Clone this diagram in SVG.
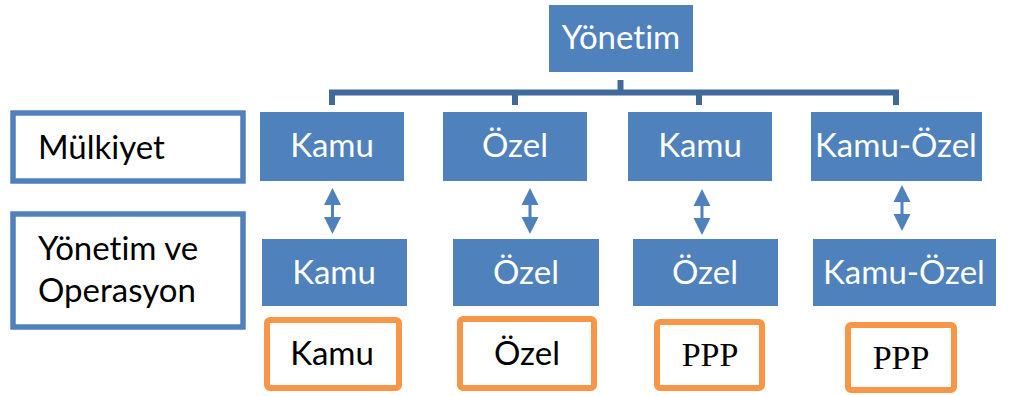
<svg xmlns="http://www.w3.org/2000/svg" width="1010" height="396" viewBox="0 0 1010 396">
  <style>
    text { font-variant-ligatures: none; font-feature-settings: "liga" 0, "clig" 0; }
    .box { fill: #4f81bd; }
    .lbl { fill: #ffffff; stroke: #4f81bd; stroke-width: 5.5; }
    .res { fill: #ffffff; stroke: #f79646; stroke-width: 6; }
    .wt { font-family: Lato, "Open Sans", sans-serif; font-size: 33px; fill: #ffffff; text-anchor: middle; }
    .bk { font-family: Lato, "Open Sans", sans-serif; font-size: 33px; fill: #000000; }
    .bkc { font-family: Lato, "Open Sans", sans-serif; font-size: 33px; fill: #000000; text-anchor: middle; }
    .serif { font-family: "Liberation Serif", serif; font-size: 34px; fill: #000000; text-anchor: middle; }
    .tree { fill: none; stroke: #40699c; stroke-width: 6; }
    .arr { fill: #4f81bd; }
  </style>
  <defs>
    <path id="dbl" d="M0 0 L8.5 17 H1.5 V29 H8.5 L0 46 L-8.5 29 H-1.5 V17 H-8.5 Z"/>
  </defs>

  <!-- tree connectors and double arrows -->
  <g id="connectors">
    <path class="tree" d="M620.5 80 V92.5 M332 105 V92.5 H896 V105 M515 92.5 V105 M699 92.5 V105"/>
    <use href="#dbl" class="arr" transform="translate(332.5,188)"/>
    <use href="#dbl" class="arr" transform="translate(530,188)"/>
    <use href="#dbl" class="arr" transform="translate(702,189)"/>
    <use href="#dbl" class="arr" transform="translate(902,185)"/>
  </g>

  <!-- row labels -->
  <g id="label-mulkiyet">
    <rect class="lbl" x="13" y="113" width="230" height="68"/>
    <text class="bk" x="38" y="159">Mülkiyet</text>
  </g>
  <g id="label-yonetim-operasyon">
    <rect class="lbl" x="13" y="214" width="230" height="113"/>
    <text class="bk" x="38" y="260">Yönetim ve</text>
    <text class="bk" x="38" y="302">Operasyon</text>
  </g>

  <!-- root -->
  <g id="root-yonetim">
    <rect class="box" x="549" y="5" width="144" height="67"/>
    <text class="wt" x="621" y="49">Yönetim</text>
  </g>

  <!-- ownership row -->
  <g id="own-kamu">
    <rect class="box" x="260" y="112" width="144" height="69"/>
    <text class="wt" x="332" y="157">Kamu</text>
  </g>
  <g id="own-ozel">
    <rect class="box" x="443" y="112" width="144" height="69"/>
    <text class="wt" x="515" y="157">Özel</text>
  </g>
  <g id="own-kamu-2">
    <rect class="box" x="628" y="112" width="144" height="69"/>
    <text class="wt" x="700" y="157">Kamu</text>
  </g>
  <g id="own-kamu-ozel">
    <rect class="box" x="811" y="112" width="171" height="69"/>
    <text class="wt" x="896" y="157">Kamu-Özel</text>
  </g>

  <!-- management and operation row -->
  <g id="op-kamu">
    <rect class="box" x="262" y="239" width="145" height="67"/>
    <text class="wt" x="334" y="284">Kamu</text>
  </g>
  <g id="op-ozel">
    <rect class="box" x="453" y="239" width="146" height="67"/>
    <text class="wt" x="526" y="284">Özel</text>
  </g>
  <g id="op-ozel-2">
    <rect class="box" x="633" y="239" width="145" height="67"/>
    <text class="wt" x="705" y="284">Özel</text>
  </g>
  <g id="op-kamu-ozel">
    <rect class="box" x="813" y="239" width="183" height="67"/>
    <text class="wt" x="904" y="284">Kamu-Özel</text>
  </g>

  <!-- resulting model -->
  <g id="res-kamu">
    <rect class="res" x="267" y="320" width="132" height="68" rx="3"/>
    <text class="bkc" x="332" y="365">Kamu</text>
  </g>
  <g id="res-ozel">
    <rect class="res" x="460" y="319" width="134" height="69" rx="3"/>
    <text class="bkc" x="527" y="365">Özel</text>
  </g>
  <g id="res-ppp">
    <rect class="res" x="657" y="322" width="105" height="66" rx="3"/>
    <text class="serif" x="710" y="366">PPP</text>
  </g>
  <g id="res-ppp-2">
    <rect class="res" x="848" y="325" width="106" height="65" rx="3"/>
    <text class="serif" x="901" y="369">PPP</text>
  </g>
</svg>
